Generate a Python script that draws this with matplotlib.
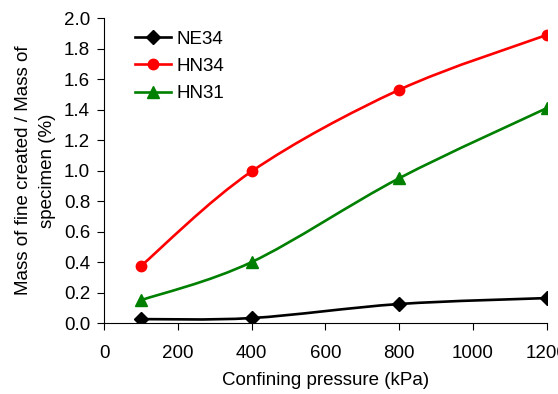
import matplotlib.pyplot as plt
from matplotlib.path import Path
from matplotlib.patches import PathPatch
from matplotlib.lines import Line2D

plt.rcParams['font.family'] = ['Liberation Sans', 'DejaVu Sans']
plt.rcParams['font.size'] = 13

pressure = [100, 400, 800, 1200]
ne34 = [0.026, 0.033, 0.125, 0.164]
hn34 = [0.374, 0.995, 1.53, 1.89]
hn31 = [0.15, 0.40, 0.95, 1.41]

series = [
    ("NE34", ne34, "black", "D", 7),
    ("HN34", hn34, "red", "o", 7.5),
    ("HN31", hn31, "green", "^", 8.5),
]


def smooth_path(xs, ys):
    # Excel-like smoothed line: cubic bezier through the points
    pts = list(zip(xs, ys))
    verts = [pts[0]]
    codes = [Path.MOVETO]
    n = len(pts)
    for i in range(n - 1):
        p0 = pts[max(i - 1, 0)]
        p1 = pts[i]
        p2 = pts[i + 1]
        p3 = pts[min(i + 2, n - 1)]
        c1 = (p1[0] + (p2[0] - p0[0]) / 6, p1[1] + (p2[1] - p0[1]) / 6)
        c2 = (p2[0] - (p3[0] - p1[0]) / 6, p2[1] - (p3[1] - p1[1]) / 6)
        verts += [c1, c2, p2]
        codes += [Path.CURVE4] * 3
    return Path(verts, codes)


fig = plt.figure(figsize=(5.58, 3.94), dpi=100)
ax = fig.add_axes([0.1864, 0.180, 0.7936, 0.774])

handles = []
for name, vals, color, marker, ms in series:
    ax.add_patch(PathPatch(smooth_path(pressure, vals), facecolor='none',
                           edgecolor=color, lw=1.9, zorder=2))
    ax.plot(pressure, vals, ls='none', marker=marker, color=color, ms=ms, zorder=3)
    handles.append(Line2D([], [], color=color, lw=1.9, marker=marker, ms=ms, label=name))

ax.set_xlim(0, 1200)
ax.set_ylim(0, 2.0)
ax.set_xticks(range(0, 1201, 200))
ax.set_yticks([i / 5 for i in range(11)])
ax.set_yticklabels([f"{i / 5:.1f}" for i in range(11)])
ax.spines['top'].set_visible(False)
ax.spines['right'].set_visible(False)
ax.tick_params(direction='out', length=5, width=0.8, labelsize=13.5)
ax.tick_params(axis='x', pad=11)
ax.tick_params(axis='y', pad=5)
ax.set_xlabel("Confining pressure (kPa)", fontsize=13.5, labelpad=7)
ax.set_ylabel("Mass of fine created / Mass of\nspecimen (%)", fontsize=13.5, labelpad=6,
              linespacing=1.5)

ax.legend(handles=handles, loc='upper left', bbox_to_anchor=(0.032, 1.015), frameon=False,
          fontsize=13.5, handlelength=1.9, labelspacing=0.55, handletextpad=0.3)

fig.savefig("out.png", dpi=100)
